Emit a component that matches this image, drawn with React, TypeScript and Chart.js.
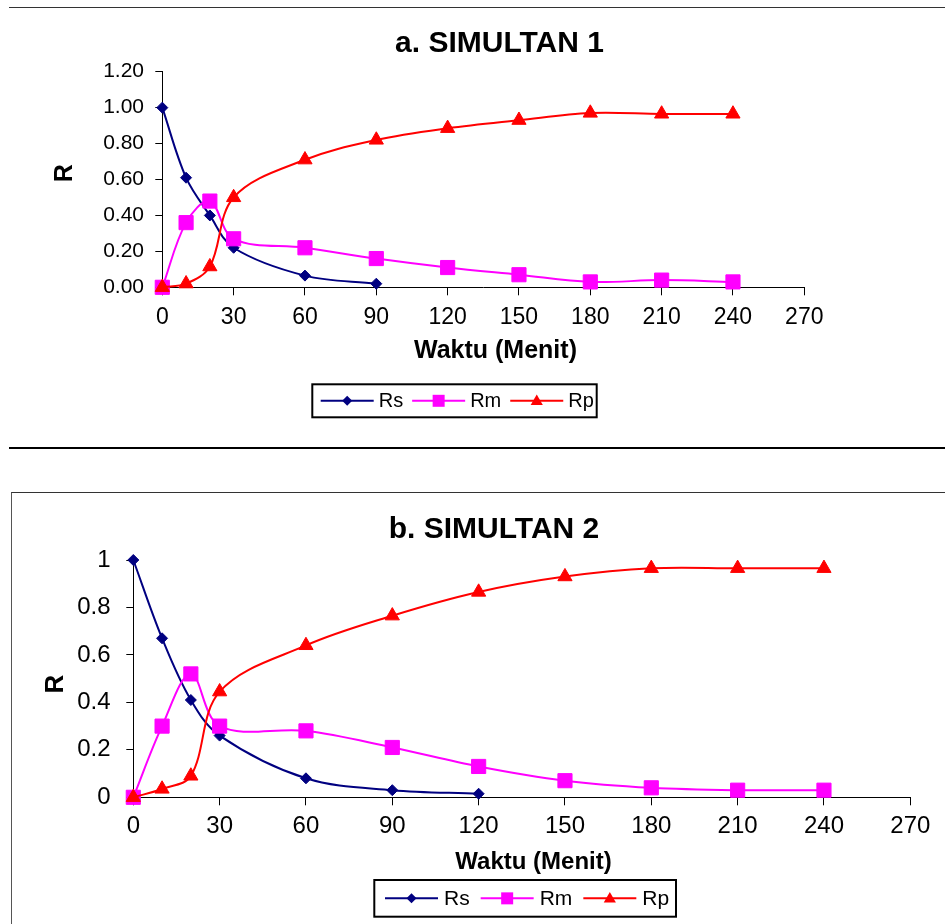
import React, { useEffect, useRef } from 'react';
import { Chart, registerables } from 'chart.js';

Chart.register(...registerables);

// ---------- data ----------
const TIME = [0, 10, 20, 30, 60, 90, 120, 150, 180, 210, 240];
const SERIES_NAMES = ['Rs', 'Rm', 'Rp'];
const SERIES_COLORS = ['#000080', '#FF00FF', '#FF0000'];

// a. SIMULTAN 1
const S1_RS = [1.0, 0.61, 0.4, 0.22, 0.065, 0.02];
const S1_RM = [0.0, 0.36, 0.48, 0.27, 0.22, 0.16, 0.11, 0.07, 0.03, 0.04, 0.03];
const S1_RP = [0.0, 0.02, 0.115, 0.5, 0.71, 0.82, 0.885, 0.93, 0.97, 0.965, 0.965];

// b. SIMULTAN 2
const S2_RS = [1.0, 0.67, 0.41, 0.26, 0.08, 0.03, 0.015];
const S2_RM = [0.0, 0.3, 0.52, 0.3, 0.28, 0.21, 0.13, 0.07, 0.04, 0.03, 0.03];
const S2_RP = [0.0, 0.035, 0.09, 0.445, 0.64, 0.765, 0.865, 0.93, 0.965, 0.965, 0.965];

const X_MIN = 0;
const X_MAX = 270;
const X_STEP = 30;

const FONT = '"Liberation Sans", Arial, Helvetica, sans-serif';

function toPoints(vals: number[]) {
  return vals.map((v, i) => ({ x: TIME[i], y: v }));
}

function drawMarker(ctx: CanvasRenderingContext2D, style: string, x: number, y: number, r: number, color: string) {
  ctx.save();
  ctx.fillStyle = color;
  ctx.beginPath();
  if (style === 'rectRot') {
    ctx.moveTo(x - r, y);
    ctx.lineTo(x, y - r);
    ctx.lineTo(x + r, y);
    ctx.lineTo(x, y + r);
    ctx.closePath();
  } else if (style === 'rect') {
    ctx.rect(x - r, y - r, 2 * r, 2 * r);
  } else {
    const h = r * 1.5;
    ctx.moveTo(x, y - h * 0.6);
    ctx.lineTo(x + r * 0.87, y + h * 0.4);
    ctx.lineTo(x - r * 0.87, y + h * 0.4);
    ctx.closePath();
  }
  ctx.fill();
  ctx.restore();
}

const decorPlugin = {
  id: 'decor',
  afterDraw(chart: any, _args: any, o: any) {
    const ctx: CanvasRenderingContext2D = chart.ctx;
    ctx.save();
    ctx.fillStyle = '#000';
    ctx.textBaseline = 'middle';
    ctx.textAlign = 'center';
    ctx.font = `bold ${o.titleSize}px ${FONT}`;
    ctx.fillText(o.title, o.titleX, o.titleY);
    ctx.font = `bold ${o.xTitleSize}px ${FONT}`;
    ctx.fillText(o.xTitle, o.xTitleX, o.xTitleY);
    ctx.save();
    ctx.translate(o.yTitleX, o.yTitleY);
    ctx.rotate(-Math.PI / 2);
    ctx.font = `bold ${o.yTitleSize}px ${FONT}`;
    ctx.fillText(o.yTitle, 0, 0);
    ctx.restore();

    const L = o.legend;
    ctx.lineWidth = 2;
    ctx.strokeStyle = '#000';
    ctx.strokeRect(L.x, L.y, L.w, L.h);
    ctx.font = `${L.size}px ${FONT}`;
    ctx.textAlign = 'left';
    let x = L.x + L.pad;
    const cy = L.y + L.h / 2;
    chart.data.datasets.forEach((ds: any) => {
      ctx.strokeStyle = ds.borderColor;
      ctx.lineWidth = 2;
      ctx.beginPath();
      ctx.moveTo(x, cy);
      ctx.lineTo(x + L.line, cy);
      ctx.stroke();
      drawMarker(ctx, ds.pointStyle, x + L.line / 2, cy, L.marker[ds.pointStyle], ds.borderColor);
      x += L.line + L.gap;
      ctx.fillStyle = '#000';
      ctx.fillText(ds.label, x, cy + 1);
      x += ctx.measureText(ds.label).width + L.itemGap;
    });
    ctx.restore();
  },
};

function makeDatasets(rs: number[], rm: number[], rp: number[]) {
  const styles = ['rectRot', 'rect', 'triangle'];
  const radii = [5.5, 10, 8.2];
  const orders = [2, 1, 0];
  return [rs, rm, rp].map((vals, i) => ({
    label: SERIES_NAMES[i],
    data: toPoints(vals),
    borderColor: SERIES_COLORS[i],
    backgroundColor: SERIES_COLORS[i],
    pointBackgroundColor: SERIES_COLORS[i],
    pointBorderColor: SERIES_COLORS[i],
    pointBorderWidth: 1,
    pointStyle: styles[i],
    pointRadius: radii[i],
    borderWidth: 2,
    tension: 0.35,
    clip: false as any,
    order: orders[i],
  }));
}

type Cfg = {
  rs: number[];
  rm: number[];
  rp: number[];
  width: number;
  height: number;
  padding: { left: number; top: number; right: number; bottom: number };
  yWidth: number;
  yMax: number;
  yFmt: (v: number) => string;
  yFont: number;
  yPad: number;
  xFont: number;
  xPad: number;
  decor: any;
};

function SimChart({ cfg, style }: { cfg: Cfg; style: React.CSSProperties }) {
  const ref = useRef<HTMLCanvasElement | null>(null);
  useEffect(() => {
    if (!ref.current) return;
    const chart = new Chart(ref.current, {
      type: 'line',
      data: { datasets: makeDatasets(cfg.rs, cfg.rm, cfg.rp) as any },
      plugins: [decorPlugin as any],
      options: {
        animation: false,
        responsive: false,
        maintainAspectRatio: false,
        layout: { padding: cfg.padding },
        plugins: {
          legend: { display: false },
          tooltip: { enabled: false },
          title: { display: false },
          decor: cfg.decor,
        } as any,
        scales: {
          x: {
            type: 'linear',
            min: X_MIN,
            max: X_MAX,
            afterFit: (s: any) => {
              s.height = 60;
            },
            ticks: {
              stepSize: X_STEP,
              color: '#000',
              padding: cfg.xPad,
              maxRotation: 0,
              font: { family: FONT, size: cfg.xFont },
              callback: (v: any) => String(v),
            },
            grid: { display: true, drawOnChartArea: false, drawTicks: true, tickLength: 8, color: '#000', lineWidth: 1 },
            border: { display: true, color: '#000', width: 1 },
          },
          y: {
            type: 'linear',
            min: 0,
            max: cfg.yMax,
            afterFit: (s: any) => {
              s.width = cfg.yWidth;
            },
            ticks: {
              stepSize: 0.2,
              color: '#000',
              padding: cfg.yPad,
              font: { family: FONT, size: cfg.yFont },
              callback: (v: any) => cfg.yFmt(Number(v)),
            },
            grid: { display: true, drawOnChartArea: false, drawTicks: true, tickLength: 7, color: '#000', lineWidth: 1 },
            border: { display: true, color: '#000', width: 1 },
          },
        },
      } as any,
    });
    return () => chart.destroy();
  }, [cfg]);
  return <canvas ref={ref} width={cfg.width} height={cfg.height} style={{ position: 'absolute', width: cfg.width, height: cfg.height, ...style }} />;
}

const CFG1: Cfg = {
  rs: S1_RS,
  rm: S1_RM,
  rp: S1_RP,
  width: 945,
  height: 460,
  padding: { left: 0, top: 71.7, right: 140.7, bottom: 460 - 287.3 - 60 },
  yWidth: 162.3,
  yMax: 1.2,
  yFmt: (v) => v.toFixed(2),
  yFont: 21,
  yPad: 11.3,
  xFont: 23,
  xPad: 8.6,
  decor: {
    title: 'a. SIMULTAN 1',
    titleSize: 30,
    titleX: 499.5,
    titleY: 44,
    xTitle: 'Waktu (Menit)',
    xTitleSize: 25,
    xTitleX: 495.5,
    xTitleY: 351,
    yTitle: 'R',
    yTitleSize: 25,
    yTitleX: 65,
    yTitleY: 173.3,
    legend: { x: 312.3, y: 384.3, w: 284.4, h: 33, pad: 8.4, line: 53, gap: 5, itemGap: 9, size: 20, marker: { rectRot: 5, rect: 6, triangle: 7 } },
  },
};

const CFG2: Cfg = {
  rs: S2_RS,
  rm: S2_RM,
  rp: S2_RP,
  width: 945,
  height: 464,
  padding: { left: 0, top: 100, right: 34.7, bottom: 464 - 337.3 - 60 },
  yWidth: 133.3,
  yMax: 1,
  yFmt: (v) => String(Number(v.toFixed(1))),
  yFont: 24,
  yPad: 15.8,
  xFont: 24,
  xPad: 6.3,
  decor: {
    title: 'b. SIMULTAN 2',
    titleSize: 30,
    titleX: 494,
    titleY: 69.7,
    xTitle: 'Waktu (Menit)',
    xTitleSize: 24,
    xTitleX: 533.5,
    xTitleY: 402.5,
    yTitle: 'R',
    yTitleSize: 26,
    yTitleX: 56.3,
    yTitleY: 224,
    legend: { x: 374.3, y: 420, w: 301.7, h: 36.7, pad: 10.7, line: 53, gap: 6, itemGap: 11, size: 21, marker: { rectRot: 5, rect: 6, triangle: 7 } },
  },
};

export default function App() {
  return (
    <div style={{ position: 'absolute', left: 0, top: 0, width: 945, height: 924, overflow: 'hidden', background: '#fff' }}>
      <div style={{ position: 'absolute', left: 9, top: 7, width: 936, height: 0, borderTop: '1px solid #333' }} />
      <div style={{ position: 'absolute', left: 9, top: 447, width: 936, height: 2, background: '#000' }} />
      <div
        style={{
          position: 'absolute',
          left: 11,
          top: 492,
          width: 960,
          height: 500,
          borderTop: '1px solid #333',
          borderLeft: '1px solid #555',
        }}
      />
      <SimChart cfg={CFG1} style={{ left: 0, top: 0 }} />
      <SimChart cfg={CFG2} style={{ left: 0, top: 460 }} />
    </div>
  );
}
